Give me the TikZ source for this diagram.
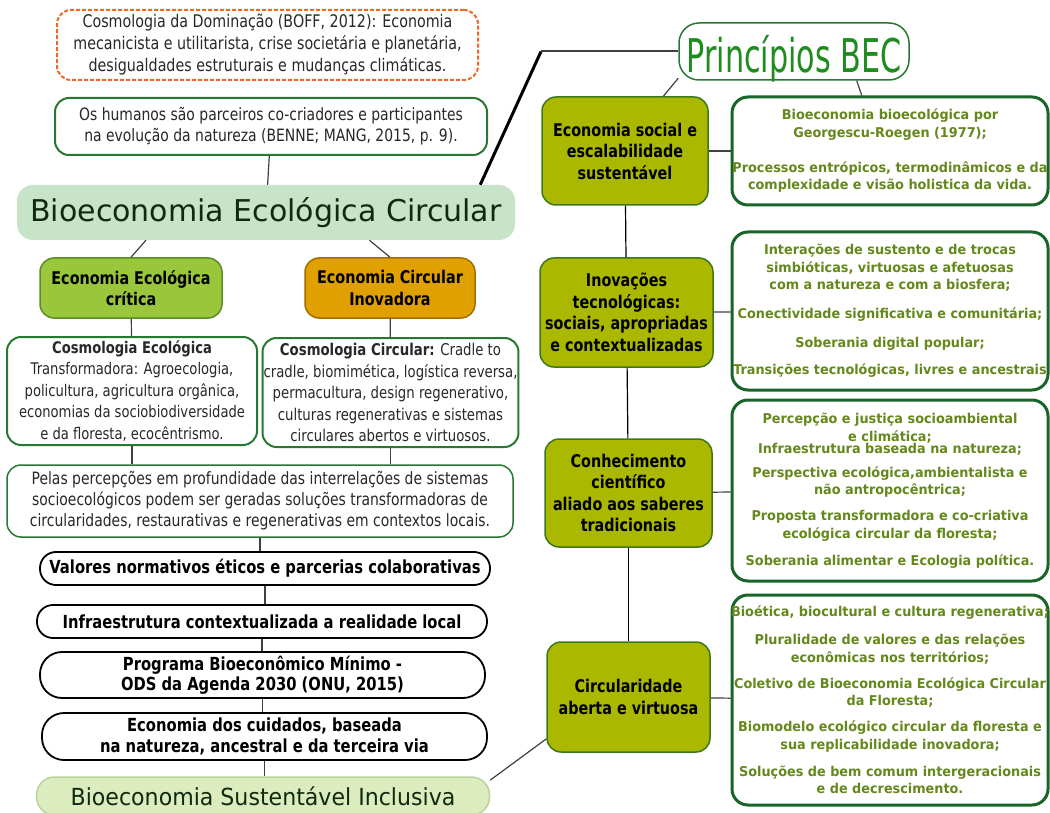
\documentclass[tikz,border=0pt]{standalone}
\usepackage{fontspec}
\setmainfont{DejaVu Sans}
\newfontfamily\narrowfont[FakeStretch=0.82]{DejaVu Sans}
\newfontfamily\descfont[FakeStretch=0.95]{DejaVu Sans}
\newfontfamily\princfont[FakeStretch=0.65]{DejaVu Sans}
\newfontfamily\bsifont[FakeStretch=0.94]{DejaVu Sans}
\definecolor{olivefill}{RGB}{170,184,0}
\definecolor{oliveedge}{RGB}{60,120,30}
\definecolor{boxgreen}{RGB}{40,120,50}
\definecolor{descedge}{RGB}{25,100,40}
\definecolor{desctext}{RGB}{100,136,26}
\definecolor{titlefill}{RGB}{200,228,200}
\definecolor{titletext}{RGB}{16,42,16}
\definecolor{bsifill}{RGB}{220,236,190}
\definecolor{bsiedge}{RGB}{185,212,155}
\definecolor{ecofill}{RGB}{154,198,60}
\definecolor{ecoedge}{RGB}{90,140,40}
\definecolor{circfill}{RGB}{224,160,0}
\definecolor{circedge}{RGB}{160,110,0}
\definecolor{domedge}{RGB}{238,105,40}
\definecolor{princtext}{RGB}{30,140,30}
\definecolor{linkgray}{RGB}{64,64,64}
\definecolor{textgray}{RGB}{40,40,40}
\newcommand{\spill}[1]{\makebox[\hsize]{#1}}

\begin{document}
\begin{tikzpicture}[x=1pt, y=-1pt,
  link/.style={draw=linkgray, line width=1.2pt},
  heavy/.style={draw=black, line width=3pt},
  greenbox/.style={draw=boxgreen, line width=2pt, rounded corners=14pt, fill=white, align=center, inner sep=1pt, text=textgray, font={\fontsize{17}{21}\narrowfont}},
  headbox/.style={line width=1.5pt, rounded corners=14pt, align=center, inner sep=1pt, text=black, font={\fontsize{17.5}{21.5}\narrowfont\bfseries}},
  olive/.style={headbox, draw=oliveedge, fill=olivefill},
  desc/.style={draw=descedge, line width=3pt, rounded corners=16pt, fill=white, align=center, inner sep=0pt, text width=316pt, text=desctext, font={\fontsize{13.5}{17.5}\descfont\bfseries}},
  pill/.style={draw=black, line width=1.8pt, rounded corners=16pt, fill=white, align=center, inner sep=0pt, font={\fontsize{18}{20.5}\narrowfont\bfseries}}]
\useasboundingbox (0,0) rectangle (1050,813);
\clip (0,0) rectangle (1050,813);

% left column
\node[greenbox, draw=domedge, dash pattern=on 4pt off 2pt, minimum width=421pt, minimum height=70pt, font={\fontsize{17.4}{22}\narrowfont}] (domin) at (267.5,45)
  {Cosmologia da Dominação (BOFF, 2012): Economia\\mecanicista e utilitarista, crise societária e planetária,\\desigualdades estruturais e mudanças climáticas.};
\node[greenbox, minimum width=432pt, minimum height=57pt] (humanos) at (271,126.5)
  {Os humanos são parceiros co-criadores e participantes\\na evolução da natureza (BENNE; MANG, 2015, p. 9).};
\node[fill=titlefill, rounded corners=16pt, minimum width=498pt, minimum height=55pt, inner sep=0pt, text=titletext, font={\fontsize{30}{34}\selectfont}] (bec) at (266,212.5)
  {Bioeconomia Ecológica Circular};
\node[headbox, draw=ecoedge, fill=ecofill, minimum width=182pt, minimum height=60pt] (ecoeco) at (131,288)
  {Economia Ecológica\\crítica};
\node[headbox, draw=circedge, fill=circfill, minimum width=170pt, minimum height=60pt] (ecocirc) at (390,288)
  {Economia Circular\\Inovadora};
\node[greenbox, minimum width=250pt, minimum height=108pt, font={\fontsize{16}{21.5}\narrowfont}] (cosmeco) at (132,391)
  {\textbf{Cosmologia Ecológica}\\Transformadora: Agroecologia,\\policultura, agricultura orgânica,\\economias da sociobiodiversidade\\e da floresta, ecocêntrismo.};
\node[greenbox, minimum width=255pt, minimum height=109pt, font={\fontsize{16.2}{21.5}\narrowfont}] (cosmcirc) at (390.5,392.5)
  {\textbf{Cosmologia Circular:} Cradle to\\cradle, biomimética, logística reversa,\\permacultura, design regenerativo,\\culturas regenerativas e sistemas\\circulares abertos e virtuosos.};
\node[greenbox, line width=1.5pt, minimum width=506pt, minimum height=72pt] (pelas) at (260,501)
  {Pelas percepções em profundidade das interrelações de sistemas\\socioecológicos podem ser geradas soluções transformadoras de\\circularidades, restaurativas e regenerativas em contextos locais.};
\node[pill, minimum width=450pt, minimum height=33pt] (valores) at (265,568.5)
  {Valores normativos éticos e parcerias colaborativas};
\node[pill, minimum width=450pt, minimum height=33pt] (infra) at (262,621.5)
  {Infraestrutura contextualizada a realidade local};
\node[pill, rounded corners=22pt, minimum width=445pt, minimum height=46pt] (programa) at (262.5,675)
  {Programa Bioeconômico Mínimo -\\ODS da Agenda 2030 (ONU, 2015)};
\node[pill, rounded corners=22pt, minimum width=445pt, minimum height=47pt] (cuidados) at (264.5,736.5)
  {Economia dos cuidados, baseada\\na natureza, ancestral e da terceira via};
\node[draw=bsiedge, line width=1.5pt, fill=bsifill, rounded corners=18pt, minimum width=453pt, minimum height=38pt, inner sep=0pt, text=titletext, font={\fontsize{23.5}{26}\bsifont}] (bsi) at (263,796)
  {Bioeconomia Sustentável Inclusiva};

% right column
\node[draw=boxgreen, line width=1.5pt, rounded corners=20pt, fill=white, minimum width=230pt, minimum height=57pt, inner sep=0pt, text height=43pt, text depth=0pt, text=princtext, font={\fontsize{46.5}{50}\princfont}] (princ) at (794,51.5)
  {Princípios BEC};
\node[olive, minimum width=166pt, minimum height=108pt] (socesc) at (625,151)
  {Economia social e\\escalabilidade\\sustentável};
\node[olive, minimum width=173pt, minimum height=109pt] (inov) at (626.5,312.5)
  {Inovações\\tecnológicas:\\sociais, apropriadas\\e contextualizadas};
\node[olive, minimum width=167pt, minimum height=108pt] (conh) at (628.5,493)
  {Conhecimento\\científico\\aliado aos saberes\\tradicionais};
\node[olive, minimum width=163pt, minimum height=110pt] (circ) at (628.5,697)
  {Circularidade\\aberta e virtuosa};
\node[desc, minimum height=108pt] (d1) at (890,151)
  {Bioeconomia bioecológica por\\Georgescu-Roegen (1977);\\[17.5pt]\spill{Processos entrópicos, termodinâmicos e da}\\complexidade e visão holistica da vida.};
\node[desc, minimum height=158pt] (d2) at (890,311)
  {Interações de sustento e de trocas\\simbióticas, virtuosas e afetuosas\\com a natureza e com a biosfera;\\[11pt]Conectividade significativa e comunitária;\\[12pt]Soberania digital popular;\\[9.5pt]\spill{Transições tecnológicas, livres e ancestrais}};
\node[desc, minimum height=181pt] (d3) at (890,490.5)
  {Percepção e justiça socioambiental\\e climática;\\[-5.5pt]Infraestrutura baseada na natureza;\\[6.5pt]Perspectiva ecológica,ambientalista e\\não antropocêntrica;\\[8.5pt]Proposta transformadora e co-criativa\\ecológica circular da floresta;\\[9.5pt]Soberania alimentar e Ecologia política.};
\node[desc, minimum height=210pt] (d4) at (890,700)
  {\spill{Bioética, biocultural e cultura regenerativa;}\\[10.5pt]Pluralidade de valores e das relações\\econômicas nos territórios;\\[8.5pt]\spill{Coletivo de Bioeconomia Ecológica Circular}\\da Floresta;\\[8.5pt]\spill{Biomodelo ecológico circular da floresta e}\\sua replicabilidade inovadora;\\[9.5pt]Soluções de bem comum intergeracionais\\e de decrescimento.};

% connectors
\coordinate (kink) at (541,51.5);
\draw[heavy] ([xshift=-35pt]bec.north east) -- (kink);
\draw[link, line width=2pt] (kink) -- (princ.west);
\draw[link] (humanos) -- (bec);
\draw[link] (bec.193) -- (ecoeco.north);
\draw[link] (bec.345) -- (ecocirc.north);
\draw[link] (ecoeco) -- (cosmeco);
\draw[link] (ecocirc) -- (cosmcirc);
\draw[link] (cosmeco.south) -- (cosmeco.south |- pelas.north);
\draw[link] (cosmcirc.south) -- (cosmcirc.south |- pelas.north);
\draw[link] (pelas.south) -- (pelas.south |- valores.north);
\draw[link] (valores.south) -- (valores.south |- infra.north);
\draw[link] (infra.south) -- (infra.south |- programa.north);
\draw[link] (programa.south) -- (programa.south |- cuidados.north);
\draw[link] (cuidados.south) -- (cuidados.south |- bsi.north);
\draw[link] (princ.193) -- (socesc.55);
\draw[link] (princ.335) -- (d1.117);
\draw[link] (socesc) -- (d1);
\draw[link, black] (socesc) -- (inov);
\draw[link] (inov) -- (d2);
\draw[link, black] (inov) -- (conh);
\draw[link] (conh) -- (d3);
\draw[link, black] (conh) -- (circ);
\draw[link] (circ) -- (d4);
\draw[link] (circ.207) -- (bsi.4);
\end{tikzpicture}
\end{document}
